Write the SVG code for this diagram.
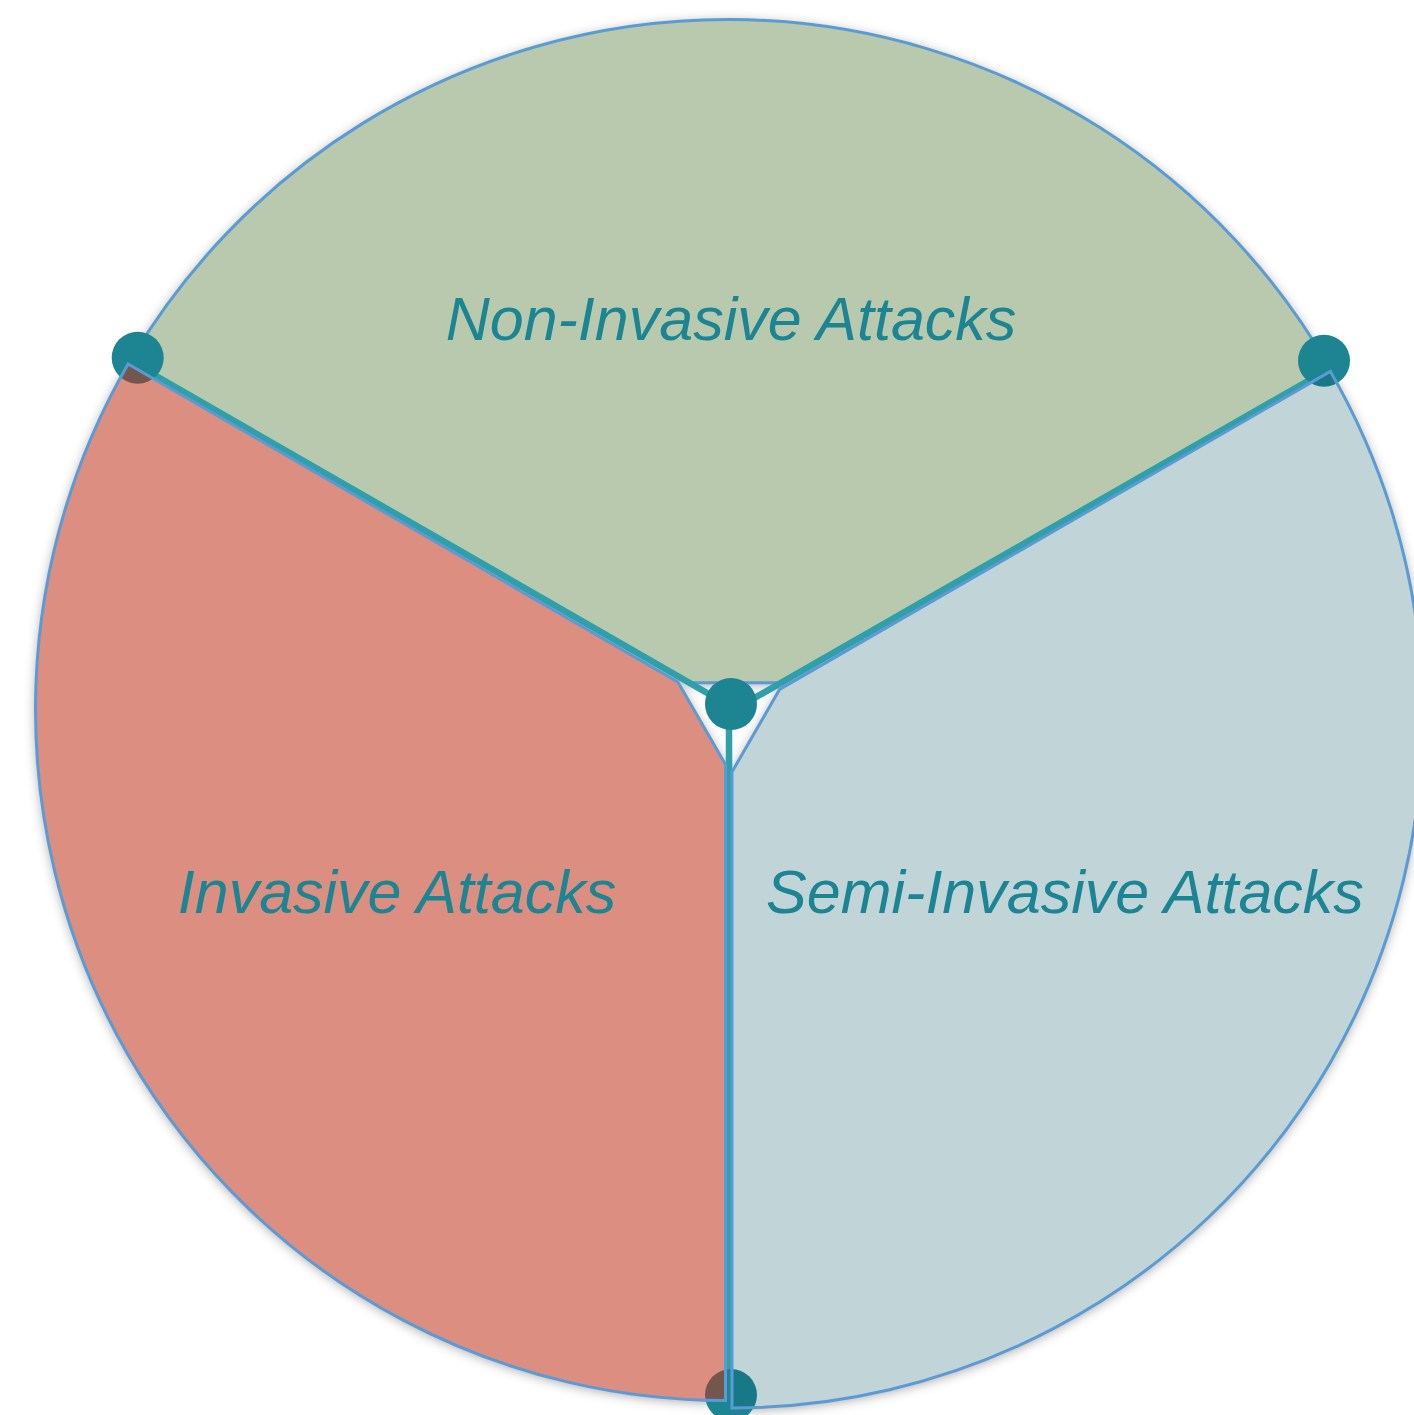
<svg xmlns="http://www.w3.org/2000/svg" width="1414" height="1415" viewBox="0 0 1414 1415">
  <style>
    .seg { stroke: #5b9bd5; stroke-width: 3; stroke-linejoin: miter; }
    .base { fill: #ffffff; stroke: none; }
    .label { font-family: "Liberation Sans", Arial, sans-serif; font-style: italic; font-size: 61px; fill: #1b8594; text-anchor: middle; }
    .link { stroke: #2fa0a9; stroke-width: 6.5; stroke-linecap: butt; fill: none; }
    .dot { fill: #1c8591; }
  </style>
  <defs>
    <filter id="soft-shadow" x="-10%" y="-10%" width="120%" height="120%">
      <feGaussianBlur in="SourceAlpha" stdDeviation="6"/>
      <feOffset dx="0" dy="2" result="blur"/>
      <feFlood flood-color="#000000" flood-opacity="0.36"/>
      <feComposite in2="blur" operator="in"/>
      <feMerge>
        <feMergeNode/>
        <feMergeNode in="SourceGraphic"/>
      </feMerge>
    </filter>
    <!-- pie segments, each pulled apart around a small central gap -->
    <path id="seg-top" d="M 689.3 682.7 L 130 361.1 A 694 694 0 0 1 1330 368.4 L 781.1 682.7 Z"/>
    <path id="seg-left" d="M 677.9 682 L 128.1 364 A 691 691 0 0 0 725.5 1400.5 L 725.5 764.5 Z"/>
    <path id="seg-right" d="M 779.6 689.4 L 1330.4 371.4 A 691 691 0 0 1 732 1407.9 L 732 771.9 Z"/>
  </defs>

  <rect width="1414" height="1415" fill="#ffffff"/>

  <!-- opaque backing with drop shadow under every segment -->
  <g id="backing" filter="url(#soft-shadow)">
    <use href="#seg-top" class="base"/>
    <use href="#seg-left" class="base"/>
    <use href="#seg-right" class="base"/>
  </g>

  <g id="node-non-invasive">
    <use href="#seg-top" class="seg" fill="#b9c9ad"/>
    <text class="label" x="731" y="340">Non-Invasive Attacks</text>
  </g>

  <g id="connectors">
    <line class="link" x1="731" y1="706.7" x2="134" y2="363.4"/>
    <line class="link" x1="731" y1="711.4" x2="1327" y2="370.1"/>
    <line class="link" x1="729" y1="704" x2="729" y2="1400"/>
    <circle class="dot" cx="137.7" cy="357.7" r="26"/>
    <circle class="dot" cx="1324" cy="360.7" r="26"/>
    <circle class="dot" cx="731" cy="1395" r="26"/>
    <circle class="dot" cx="731" cy="704" r="26"/>
  </g>

  <g id="node-invasive">
    <use href="#seg-left" class="seg" fill="#be2e16" fill-opacity="0.54"/>
    <text class="label" x="397" y="913">Invasive Attacks</text>
  </g>

  <g id="node-semi-invasive">
    <use href="#seg-right" class="seg" fill="#105a69" fill-opacity="0.26"/>
    <text class="label" x="1065" y="913">Semi-Invasive Attacks</text>
  </g>
</svg>
